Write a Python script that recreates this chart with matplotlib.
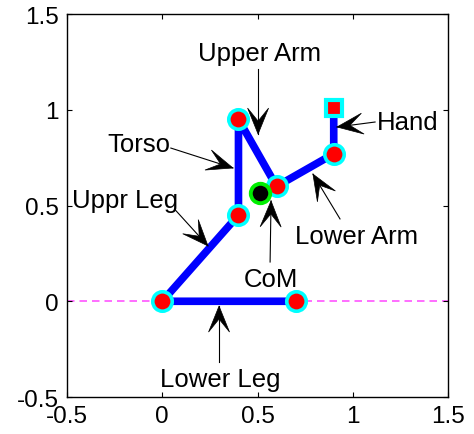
import numpy as np
import matplotlib
matplotlib.use("Agg")
import matplotlib.pyplot as plt
from matplotlib.patches import Polygon

plt.rcParams["font.family"] = ["Liberation Sans", "DejaVu Sans"]

# joint positions: toe, ankle, hip, shoulder, elbow, wrist, hand
joint_x = [0.7, 0.0, 0.4, 0.4, 0.6, 0.9, 0.9]
joint_y = [0.0, 0.0, 0.45, 0.95, 0.6, 0.77, 1.01]
com_x = 0.513
com_y = 0.565

# annotations: label, text position (baseline), arrow start, arrow tip
labels = ["Upper Arm", "Torso", "Uppr Leg", "Hand", "Lower Arm", "CoM", "Lower Leg"]
text_x = [0.51, -0.122, -0.196, 1.287, 1.022, 0.568, 0.303]
text_y = [1.26, 0.785, 0.492, 0.899, 0.304, 0.080, -0.443]
start_x = [0.503, 0.045, 0.07, 1.117, 0.933, 0.566, 0.298]
start_y = [1.213, 0.80, 0.475, 0.936, 0.430, 0.205, -0.317]
tip_x = [0.503, 0.371, 0.240, 0.917, 0.791, 0.571, 0.298]
tip_y = [0.873, 0.696, 0.289, 0.910, 0.664, 0.524, -0.025]

xticks = [-0.5, 0, 0.5, 1, 1.5]
yticks = [-0.5, 0, 0.5, 1, 1.5]


def arrow(ax, x0, y0, x1, y1, length=26, width=21, notch=0.5):
    # thin line plus a MATLAB style "vback" head drawn in pixel space
    ax.plot([x0, x1], [y0, y1], color="black", lw=0.8, zorder=6)
    p0 = ax.transData.transform((x0, y0))
    p1 = ax.transData.transform((x1, y1))
    u = (p1 - p0) / np.hypot(*(p1 - p0))
    n = np.array([-u[1], u[0]])
    pts = [p1,
           p1 - length * u + width / 2 * n,
           p1 - notch * length * u,
           p1 - length * u - width / 2 * n]
    pts = ax.transData.inverted().transform(np.array(pts))
    ax.add_patch(Polygon(pts, closed=True, facecolor="black", edgecolor="black",
                         lw=0.5, zorder=7))


fig = plt.figure(figsize=(4.74, 4.35), dpi=100)
ax = fig.add_axes([0.1414, 0.085, 0.8038, 0.8805])
ax.set_xlim(-0.5, 1.5)
ax.set_ylim(-0.5, 1.5)

ax.axhline(0, color="#ff55ff", lw=1.2, dashes=(4.5, 3), zorder=1)

ax.plot(joint_x, joint_y, color="#0000ff", lw=5.5, solid_capstyle="butt", zorder=2)
ax.plot(joint_x[:-1], joint_y[:-1], "o", ms=14, mfc="#ff0000", mec="#00ffff", mew=2.6, zorder=3)
ax.plot(joint_x[-1:], joint_y[-1:], "s", ms=11, mfc="#ff0000", mec="#00ffff", mew=3.0, zorder=3)
ax.plot([com_x], [com_y], "o", ms=14, mfc="black", mec="#00ee00", mew=2.8, zorder=4)

for i in range(len(labels)):
    arrow(ax, start_x[i], start_y[i], tip_x[i], tip_y[i])
    ax.text(text_x[i], text_y[i], labels[i], fontsize=18.5, ha="center", va="baseline", zorder=8)

ax.set_xticks(xticks)
ax.set_yticks(yticks)
ax.set_xticklabels(["-0.5", "0", "0.5", "1", "1.5"])
ax.set_yticklabels(["-0.5", "0", "0.5", "1", "1.5"])
ax.tick_params(direction="in", length=3.5, width=0.8, labelsize=17.5,
               top=True, right=True, pad=6)
for s in ax.spines.values():
    s.set_linewidth(1.0)

fig.savefig("out.png", dpi=100)
